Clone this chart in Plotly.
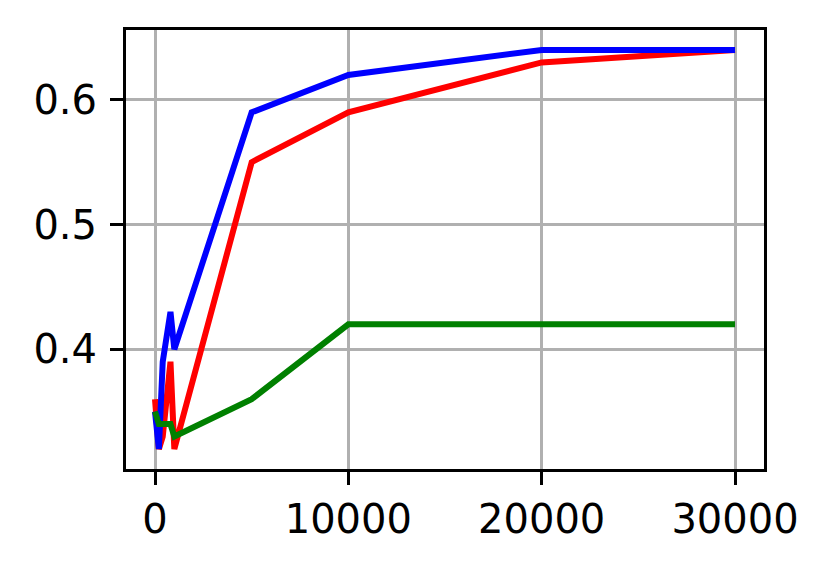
import plotly.graph_objects as go

x_values = [0, 200, 400, 800, 1000, 5000, 10000, 20000, 30000]
red_values = [0.36, 0.32, 0.33, 0.39, 0.32, 0.55, 0.59, 0.63, 0.64]
blue_values = [0.35, 0.32, 0.39, 0.43, 0.40, 0.59, 0.62, 0.64, 0.64]
green_values = [0.35, 0.34, 0.34, 0.34, 0.33, 0.36, 0.42, 0.42, 0.42]

x_ticks = [0, 10000, 20000, 30000]
y_ticks = [0.4, 0.5, 0.6]
y_tick_labels = ["0.4", "0.5", "0.6"]

fig = go.Figure()
for vals, col in [(red_values, "#ff0000"), (blue_values, "#0000ff"), (green_values, "#008000")]:
    fig.add_trace(go.Scatter(x=x_values, y=vals, mode="lines",
                             line=dict(color=col, width=6), showlegend=False))

fig.update_layout(
    width=823, height=561,
    margin=dict(l=118, r=67, t=22, b=100),
    paper_bgcolor="white", plot_bgcolor="white",
    font=dict(family="DejaVu Sans", size=40, color="black"),
)
fig.update_xaxes(
    range=[-1500, 31500], tickvals=x_ticks, ticktext=[str(v) for v in x_ticks],
    showgrid=True, gridcolor="#b0b0b0", gridwidth=3, zeroline=False,
    showline=True, linecolor="black", linewidth=3, mirror=True,
    ticks="outside", ticklen=13, tickwidth=3, tickcolor="black",
)
fig.update_yaxes(
    range=[0.304, 0.656], tickvals=y_ticks, ticktext=y_tick_labels,
    showgrid=True, gridcolor="#b0b0b0", gridwidth=3, zeroline=False,
    showline=True, linecolor="black", linewidth=3, mirror=True,
    ticks="outside", ticklen=13, tickwidth=3, tickcolor="black",
    ticklabelstandoff=5,
)
fig.write_html("out.html")
